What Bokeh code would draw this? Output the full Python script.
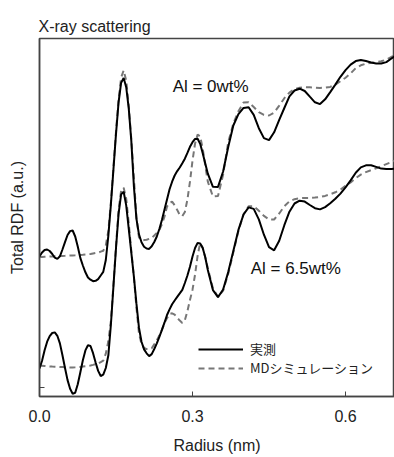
from bokeh.plotting import figure
from bokeh.models import Range1d, FixedTicker, Legend, LegendItem, Label
from bokeh.embed import file_html
from bokeh.resources import INLINE

# Radius (nm)
radius = [
    0.000, 0.005, 0.010, 0.015, 0.020, 0.025, 0.030, 0.035, 0.040, 0.045,
    0.050, 0.055, 0.060, 0.065, 0.070, 0.075, 0.080, 0.085, 0.090, 0.095,
    0.100, 0.105, 0.110, 0.115, 0.120, 0.125, 0.130, 0.135, 0.140, 0.145,
    0.150, 0.155, 0.160, 0.165, 0.170, 0.175, 0.180, 0.185, 0.190, 0.195,
    0.200, 0.205, 0.210, 0.215, 0.220, 0.225, 0.230, 0.235, 0.240, 0.245,
    0.250, 0.255, 0.260, 0.265, 0.270, 0.275, 0.280, 0.285, 0.290, 0.295,
    0.300, 0.305, 0.310, 0.315, 0.320, 0.325, 0.330,
    0.34, 0.35, 0.36, 0.37, 0.38, 0.39, 0.40, 0.41, 0.42, 0.43,
    0.44, 0.45, 0.46, 0.47, 0.48, 0.49, 0.50, 0.51, 0.52, 0.53,
    0.54, 0.55, 0.56, 0.57, 0.58, 0.59, 0.60, 0.61, 0.62, 0.63,
    0.64, 0.65, 0.66, 0.67, 0.68, 0.69, 0.70,
]

# Al = 0wt%  (measured, solid)
al0_measured = [
    1.310, 1.350, 1.375, 1.380, 1.365, 1.335, 1.298, 1.286, 1.312, 1.380,
    1.454, 1.525, 1.564, 1.570, 1.510, 1.410, 1.296, 1.220, 1.152, 1.100,
    1.078, 1.063, 1.067, 1.084, 1.120, 1.156, 1.275, 1.518, 1.832, 2.183,
    2.537, 2.850, 3.046, 3.095, 3.003, 2.789, 2.466, 2.017, 1.689, 1.532,
    1.452, 1.408, 1.390, 1.386, 1.412, 1.455, 1.510, 1.585, 1.676, 1.778,
    1.880, 1.982, 2.058, 2.120, 2.164, 2.200, 2.242, 2.288, 2.346, 2.407,
    2.453, 2.486, 2.488, 2.437, 2.342, 2.240, 2.138,
    2.007, 2.006, 2.160, 2.405, 2.620, 2.733, 2.796, 2.803, 2.726, 2.593,
    2.494, 2.474, 2.552, 2.676, 2.795, 2.912, 2.970, 2.988, 2.965, 2.908,
    2.852, 2.834, 2.882, 2.954, 3.029, 3.107, 3.174, 3.229, 3.264, 3.275,
    3.265, 3.250, 3.241, 3.240, 3.254, 3.290, 3.325,
]

# Al = 0wt%  (MD simulation, dashed)
al0_md = [
    1.305, 1.306, 1.307, 1.308, 1.310, 1.311, 1.312, 1.313, 1.315, 1.316,
    1.317, 1.319, 1.320, 1.321, 1.322, 1.324, 1.325, 1.327, 1.330, 1.332,
    1.335, 1.340, 1.345, 1.349, 1.359, 1.368, 1.422, 1.566, 1.852, 2.203,
    2.560, 2.875, 3.098, 3.171, 3.069, 2.817, 2.482, 2.104, 1.705, 1.501,
    1.471, 1.474, 1.478, 1.486, 1.495, 1.520, 1.546, 1.576, 1.632, 1.708,
    1.810, 1.845, 1.858, 1.822, 1.776, 1.725, 1.714, 1.755, 1.880, 2.058,
    2.270, 2.440, 2.530, 2.510, 2.390, 2.220, 2.058,
    1.910, 1.915, 2.130, 2.452, 2.640, 2.763, 2.850, 2.852, 2.805, 2.753,
    2.726, 2.720, 2.749, 2.819, 2.893, 2.949, 2.984, 2.998, 3.004, 3.002,
    2.999, 2.995, 2.999, 3.006, 3.029, 3.063, 3.098, 3.141, 3.194, 3.222,
    3.239, 3.247, 3.253, 3.262, 3.279, 3.305, 3.345,
]

# Al = 6.5wt%  (measured, solid)
al65_measured = [
    0.190, 0.268, 0.373, 0.458, 0.514, 0.545, 0.551, 0.517, 0.441, 0.322,
    0.195, 0.074, -0.013, -0.062, -0.053, 0.032, 0.150, 0.273, 0.371, 0.422,
    0.415, 0.343, 0.250, 0.166, 0.115, 0.128, 0.195, 0.322, 0.630, 1.012,
    1.395, 1.734, 1.931, 1.957, 1.821, 1.586, 1.348, 1.112, 0.841, 0.598,
    0.457, 0.381, 0.342, 0.314, 0.334, 0.385, 0.442, 0.506, 0.576, 0.648,
    0.725, 0.781, 0.832, 0.870, 0.906, 0.941, 0.977, 1.045, 1.120, 1.208,
    1.310, 1.395, 1.446, 1.441, 1.394, 1.302, 1.175,
    0.974, 0.904, 0.980, 1.154, 1.366, 1.576, 1.730, 1.801, 1.786, 1.681,
    1.528, 1.403, 1.372, 1.468, 1.623, 1.758, 1.840, 1.868, 1.859, 1.825,
    1.793, 1.781, 1.804, 1.843, 1.888, 1.939, 2.002, 2.071, 2.148, 2.201,
    2.222, 2.222, 2.206, 2.189, 2.185, 2.185, 2.190,
]

# Al = 6.5wt%  (MD simulation, dashed)
al65_md = [
    0.220, 0.218, 0.215, 0.213, 0.211, 0.209, 0.208, 0.207, 0.205, 0.204,
    0.203, 0.201, 0.200, 0.201, 0.202, 0.204, 0.205, 0.209, 0.212, 0.216,
    0.220, 0.226, 0.233, 0.239, 0.253, 0.268, 0.338, 0.462, 0.666, 1.032,
    1.415, 1.774, 1.968, 1.998, 1.888, 1.641, 1.364, 1.108, 0.802, 0.543,
    0.433, 0.397, 0.384, 0.384, 0.393, 0.431, 0.473, 0.519, 0.576, 0.643,
    0.694, 0.735, 0.742, 0.728, 0.696, 0.669, 0.646, 0.673, 0.763, 0.875,
    0.978, 1.130, 1.318, 1.445, 1.398, 1.300, 1.194,
    0.991, 0.905, 0.968, 1.138, 1.349, 1.566, 1.732, 1.813, 1.813, 1.767,
    1.716, 1.681, 1.680, 1.740, 1.812, 1.862, 1.883, 1.893, 1.895, 1.896,
    1.900, 1.905, 1.916, 1.932, 1.952, 1.979, 2.017, 2.051, 2.093, 2.129,
    2.154, 2.173, 2.192, 2.213, 2.234, 2.254, 2.280,
]

x_ticks = [0.0, 0.3, 0.6]
x_tick_labels = ["0.0", "0.3", "0.6"]
y_ticks = [0.0]

series_labels = ["実測", "MDシミュレーション"]
annotations = ["Al = 0wt%", "Al = 6.5wt%"]
annotation_x = [0.261, 0.414]
annotation_y = [3.01, 1.19]

X_MIN, X_MAX = 0.0, 0.696
Y_MIN, Y_MAX = -0.09, 3.49

FONT = "Liberation Sans"
AXIS_COLOR = "#444444"
TEXT_COLOR = "#222222"

p = figure(
    width=394, height=457,
    output_backend="svg", toolbar_location=None,
    x_range=Range1d(X_MIN, X_MAX), y_range=Range1d(Y_MIN, Y_MAX),
    min_border_left=39, min_border_right=0, min_border_top=38, min_border_bottom=61,
    title="X-ray scattering",
)
# full frame outline (gives the top border of the plot box)
p.outline_line_color = AXIS_COLOR
p.outline_line_width = 1.5
p.grid.visible = False
p.background_fill_color = "white"
p.border_fill_color = "white"

p.title.text_font = FONT
p.title.text_font_size = "16px"
p.title.text_font_style = "normal"
p.title.text_color = TEXT_COLOR
p.title.align = "left"
p.title.offset = -1
p.title.standoff = 8

# x axis
xa = p.below[0]
xa.ticker = FixedTicker(ticks=x_ticks)
xa.major_label_overrides = {t: l for t, l in zip(x_ticks, x_tick_labels)}
xa.major_tick_in = 5
xa.major_tick_out = 0
xa.minor_tick_line_color = None
xa.axis_line_color = AXIS_COLOR
xa.axis_line_width = 1.5
xa.major_tick_line_color = AXIS_COLOR
xa.major_label_text_font = FONT
xa.major_label_text_font_size = "16px"
xa.major_label_text_color = TEXT_COLOR
xa.major_label_standoff = 13
xa.axis_label = "Radius (nm)"
xa.axis_label_text_font = FONT
xa.axis_label_text_font_size = "16px"
xa.axis_label_text_font_style = "normal"
xa.axis_label_text_color = TEXT_COLOR
xa.axis_label_standoff = 12

# y axis
ya = p.left[0]
ya.ticker = FixedTicker(ticks=y_ticks)
ya.major_label_text_color = None
ya.major_label_text_font_size = "1px"
ya.major_tick_in = 5
ya.major_tick_out = 0
ya.minor_tick_line_color = None
ya.axis_line_color = AXIS_COLOR
ya.axis_line_width = 1.5
ya.major_tick_line_color = AXIS_COLOR
ya.major_label_standoff = 0
ya.axis_label = "Total RDF (a.u.)"
ya.axis_label_text_font = FONT
ya.axis_label_text_font_size = "16px"
ya.axis_label_text_font_style = "normal"
ya.axis_label_text_color = TEXT_COLOR
ya.axis_label_standoff = 14

MD_COLOR = "#777777"
r_md0 = p.line(radius, al0_md, line_color=MD_COLOR, line_width=2, line_dash="6 4")
r_md65 = p.line(radius, al65_md, line_color=MD_COLOR, line_width=2, line_dash="6 4")
r_m0 = p.line(radius, al0_measured, line_color="black", line_width=2)
r_m65 = p.line(radius, al65_measured, line_color="black", line_width=2)

for txt, ax, ay in zip(annotations, annotation_x, annotation_y):
    p.add_layout(Label(x=ax, y=ay, text=txt, text_font=FONT, text_font_size="17px",
                       text_baseline="middle", text_color="#111111"))

legend = Legend(
    items=[LegendItem(label=series_labels[0], renderers=[r_m0]),
           LegendItem(label=series_labels[1], renderers=[r_md0])],
    location=(159, 19),
    glyph_width=45, glyph_height=18, label_height=18,
    label_standoff=7, spacing=0, padding=0, margin=0,
    border_line_color=None, background_fill_alpha=0,
    label_text_font="Noto Sans CJK JP", label_text_font_size="13px",
    label_text_color=TEXT_COLOR,
)
p.add_layout(legend)

open("out.html", "w").write(file_html(p, INLINE))
